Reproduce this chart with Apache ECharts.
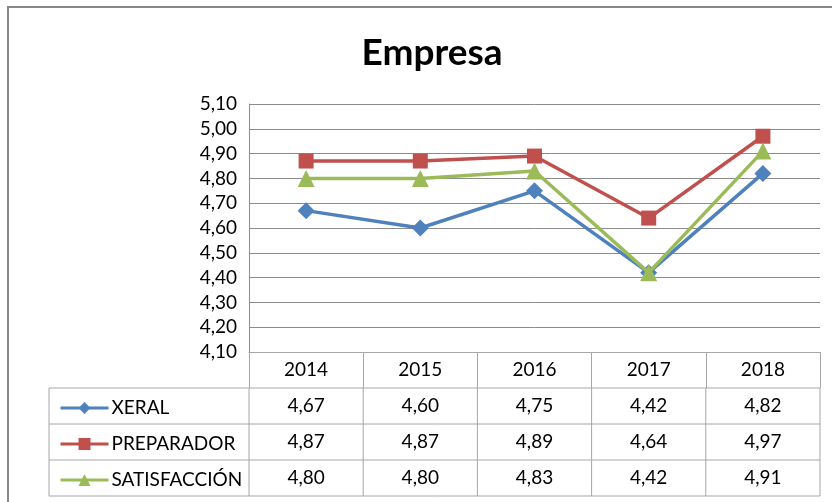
<!DOCTYPE html>
<html>
<head>
<meta charset="utf-8">
<script src="https://cdn.jsdelivr.net/npm/echarts@6/dist/echarts.min.js"></script>
<style>
  html, body { margin: 0; padding: 0; background: #fff; }
  #chart { width: 832px; height: 502px; }
</style>
</head>
<body>
<div id="chart"></div>
<script>
// datos
const years = ["2014", "2015", "2016", "2017", "2018"];
const xeral = [4.67, 4.60, 4.75, 4.42, 4.82];
const preparador = [4.87, 4.87, 4.89, 4.64, 4.97];
const satisfaccion = [4.80, 4.80, 4.83, 4.42, 4.91];
const seriesNames = ["XERAL", "PREPARADOR", "SATISFACCIÓN"];

const colors = ["#4F81BD", "#C0504D", "#9BBB59"];
const symbols = ["diamond", "rect", "triangle"];
const font = "Lato, 'Open Sans', sans-serif";
const fontSize = 19;
const gridLine = "#8c8c8c";
const tableLine = "#a6a6a6";
const rowH = 36;
const tableLeft = 49;
const tableTop = 388;

const fmt = (v) => v.toFixed(2).replace(".", ",");
const allData = [xeral, preparador, satisfaccion];

const chart = echarts.init(document.getElementById("chart"));

const option = {
    animation: false,
    title: {
        text: "Empresa",
        left: 427,
        top: 30,
        textAlign: "center",
        textStyle: { fontFamily: font, fontSize: 37, fontWeight: "bold", color: "#000" },
    },
    grid: { left: 249, right: 12, top: 104, bottom: 150, containLabel: false },
    // una leyenda por fila de la tabla
    legend: seriesNames.map((name, i) => ({
        orient: "horizontal",
        left: 54,
        top: tableTop + i * rowH + 4,
        itemGap: 0,
        itemWidth: 48,
        itemHeight: 15,
        data: [name],
        lineStyle: { width: 3 },
        textStyle: { fontFamily: font, fontSize: fontSize, color: "#000", lineHeight: 22, padding: [0, 0, 0, -2] },
    })),
    xAxis: {
        type: "category",
        data: years,
        boundaryGap: true,
        axisLine: { show: true, lineStyle: { color: tableLine, width: 1 } },
        axisTick: { show: true, length: rowH, lineStyle: { color: tableLine } },
        axisLabel: { fontFamily: font, fontSize: fontSize, color: "#000", margin: 8 },
        splitLine: { show: false },
    },
    yAxis: {
        type: "value",
        min: 4.1,
        max: 5.1,
        interval: 0.1,
        axisLine: { show: true, lineStyle: { color: gridLine } },
        axisTick: { show: false },
        axisLabel: {
            fontFamily: font, fontSize: fontSize, color: "#000", margin: 12,
            formatter: (v) => fmt(v),
        },
        splitLine: { show: true, lineStyle: { color: gridLine, width: 1 } },
    },
    series: seriesNames.map((name, i) => ({
        name: name,
        type: "line",
        data: allData[i],
        symbol: symbols[i],
        symbolSize: i === 1 ? 15 : 17,
        color: colors[i],
        lineStyle: { width: 3.5, color: colors[i] },
        itemStyle: { color: colors[i] },
        z: 3 + i,
    })),
};
chart.setOption(option);

// tabla de datos
const c0 = chart.convertToPixel({ xAxisIndex: 0 }, 0);
const c1 = chart.convertToPixel({ xAxisIndex: 0 }, 1);
const colW = c1 - c0;
const plotLeft = c0 - colW / 2;
const plotRight = plotLeft + colW * years.length;
const tableBottom = tableTop + rowH * seriesNames.length;

const elements = [];
for (let r = 0; r <= seriesNames.length; r++) {
    const y = tableTop + r * rowH;
    elements.push({
        type: "line",
        shape: { x1: tableLeft, y1: y, x2: plotRight, y2: y },
        style: { stroke: tableLine, lineWidth: 1 },
    });
}
const vx = [tableLeft];
for (let c = 0; c <= years.length; c++) vx.push(plotLeft + c * colW);
vx.forEach((x) => {
    elements.push({
        type: "line",
        shape: { x1: x, y1: tableTop, x2: x, y2: tableBottom },
        style: { stroke: tableLine, lineWidth: 1 },
    });
});
allData.forEach((row, r) => {
    row.forEach((v, c) => {
        elements.push({
            type: "text",
            x: chart.convertToPixel({ xAxisIndex: 0 }, c),
            y: tableTop + r * rowH + rowH / 2,
            style: {
                text: fmt(v),
                fontFamily: font,
                fontSize: fontSize,
                fill: "#000",
                align: "center",
                verticalAlign: "middle",
            },
        });
    });
});
// marco exterior
elements.push({
    type: "rect",
    shape: { x: 8, y: 7, width: 900, height: 600 },
    style: { fill: null, stroke: "#888", lineWidth: 2 },
});

chart.setOption({ graphic: { elements: elements } });
</script>
</body>
</html>
